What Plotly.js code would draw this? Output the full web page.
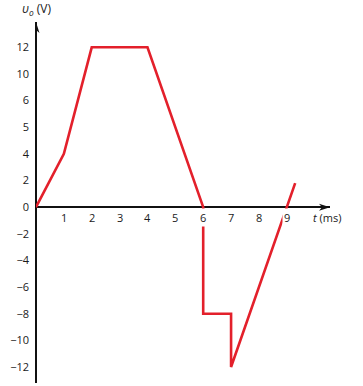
<!DOCTYPE html>
<html>
<head>
<meta charset="utf-8">
<script src="https://cdn.plot.ly/plotly-3.0.1.min.js"></script>
<style>html,body{margin:0;padding:0;background:#fff;}#chart{width:363px;height:386px;}</style>
</head>
<body>
<div id="chart"></div>
<script>
// Waveform vertices: time (ms) and voltage (V)
const timeMs = [0, 1, 2, 4, 6, 6, 7, 7, 9.3];
const voltage = [0, 4, 12, 12, 0, -8, -8, -12, 1.8];

// Axis tick values and labels (as printed in the figure)
const xTickVals = [1, 2, 3, 4, 5, 6, 7, 8, 9];
const xTickText = ['1', '2', '3', '4', '5', '6', '7', '8', '9'];
const yTickVals = [12, 10, 8, 6, 4, 2, 0, -2, -4, -6, -8, -10, -12];
const yTickText = ['12', '10', '6', '5', '4', '2', '0', '\u22122', '\u22124', '\u22126', '\u22128', '\u221210', '\u221212'];

const fontFam = '"Open Sans", "Noto Sans", sans-serif';
const txtColor = '#1a1a1a';
const xMax = 10.55, yTop = 13.9, yBot = -13.2;

const trace = {
  x: timeMs, y: voltage, type: 'scatter', mode: 'lines',
  line: {color: '#e3202b', width: 2.6},
  hoverinfo: 'skip', cliponaxis: false
};

const annotations = xTickVals.map((v, i) => ({
  x: v, y: 0, xref: 'x', yref: 'y', text: xTickText[i],
  showarrow: false, yanchor: 'top', yshift: -1,
  bgcolor: '#ffffff', borderpad: 1,
  font: {family: fontFam, size: 11, color: txtColor}
}));

annotations.push({
  x: xMax, y: 0, xref: 'x', yref: 'y', text: '<i>t</i> (ms)',
  showarrow: false, xanchor: 'center', yanchor: 'top', xshift: -3, yshift: -1,
  font: {family: fontFam, size: 11, color: txtColor}
});
annotations.push({
  x: 0, y: yTop, xref: 'x', yref: 'y', text: '<i>\u03c5</i><sub><i>o</i></sub> (V)',
  showarrow: false, xanchor: 'center', yanchor: 'bottom', xshift: 0, yshift: 2,
  font: {family: fontFam, size: 12, color: txtColor}
});

// arrowheads as pixel-sized shapes anchored at the axis ends
const shapes = [
  {type: 'path', xref: 'x', yref: 'y', xsizemode: 'pixel', ysizemode: 'pixel',
   xanchor: 0, yanchor: yTop, path: 'M0,0 L-3.5,-11 L0,-8 L3.5,-11 Z',
   fillcolor: '#111', line: {width: 0}},
  {type: 'path', xref: 'x', yref: 'y', xsizemode: 'pixel', ysizemode: 'pixel',
   xanchor: xMax, yanchor: 0, path: 'M0,0 L-11,3.5 L-8,0 L-11,-3.5 Z',
   fillcolor: '#111', line: {width: 0}}
];

const layout = {
  width: 363, height: 386,
  margin: {l: 36, r: 33, t: 22, b: 3},
  paper_bgcolor: '#fff', plot_bgcolor: '#fff',
  showlegend: false,
  xaxis: {
    range: [0, xMax], showgrid: false, showline: false, zeroline: true,
    zerolinecolor: '#111', zerolinewidth: 1.4,
    showticklabels: false, ticks: '', fixedrange: true
  },
  yaxis: {
    range: [yBot, yTop], showgrid: false, showline: false, zeroline: true,
    zerolinecolor: '#111', zerolinewidth: 1.4,
    tickvals: yTickVals, ticktext: yTickText, ticks: '',
    ticklabelstandoff: 6,
    tickfont: {family: fontFam, size: 11, color: txtColor}, fixedrange: true
  },
  shapes: shapes,
  annotations: annotations
};

Plotly.newPlot('chart', [trace], layout, {displayModeBar: false, staticPlot: true});
</script>
</body>
</html>
